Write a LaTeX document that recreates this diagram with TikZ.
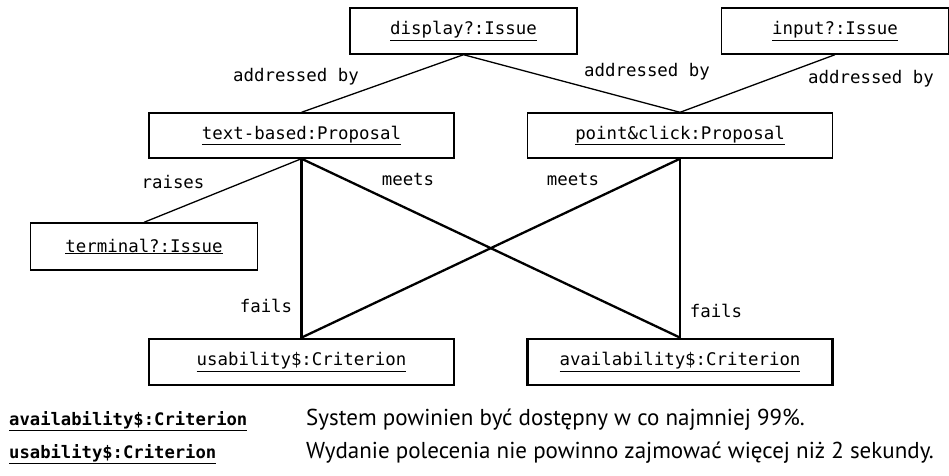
\documentclass[tikz,border=0pt]{standalone}
\usepackage{fontspec}
\setmainfont{PT Sans}
\setmonofont{DejaVu Sans Mono}
\usetikzlibrary{positioning}
\newcommand{\diagfont}{\fontsize{17.4}{20}\selectfont\ttfamily}
\newcommand{\legfont}{\fontsize{17.2}{20}\selectfont\ttfamily\bfseries}
\newcommand{\descfont}{\fontsize{23}{26}\selectfont}
\tikzset{
  issue/.style={draw, line width=1.4pt, minimum width=227pt, minimum height=46pt, inner sep=0pt, font=\diagfont},
  proposal/.style={draw, line width=1.4pt, minimum width=305pt, minimum height=45pt, inner sep=0pt, font=\diagfont},
  criterion/.style={draw, line width=2.8pt, minimum width=305pt, minimum height=46pt, inner sep=0pt, font=\diagfont},
  rel/.style={font=\diagfont, inner sep=0pt},
  thinlink/.style={line width=1.3pt},
  thicklink/.style={line width=2.3pt}
}

\begin{document}
\begin{tikzpicture}[x=1pt, y=-1pt]
    \useasboundingbox[fill=white] (0,0) rectangle (949,475);

    % issues and proposals
    \node[issue] (display) at (463.5,31) {\underline{display?:Issue}};
    \node[issue] (input) at (835,31) {\underline{input?:Issue}};
    \node[proposal] (textbased) at (301.5,135.5) {\underline{text-based:Proposal}};
    \node[proposal] (pointclick) at (680,135.5) {\underline{point\&click:Proposal}};
    \node[issue, minimum height=47pt] (terminal) at (144,246.5) {\underline{terminal?:Issue}};

    % criteria
    \node[criterion] (usability) at (301.5,362) {\underline{usability\$:Criterion}};
    \node[criterion] (availability) at (680,362) {\underline{availability\$:Criterion}};

    % links
    \draw[thinlink] (display.south) -- (textbased.north);
    \draw[thinlink] (display.south) -- (pointclick.north);
    \draw[thinlink] (input.south) -- (pointclick.north);
    \draw[thinlink] (textbased.south) -- (terminal.north);
    \draw[thicklink] (textbased.south) -- (usability.north);
    \draw[thicklink] (textbased.south) -- (availability.north);
    \draw[thicklink] (pointclick.south) -- (usability.north);
    \draw[thicklink] (pointclick.south) -- (availability.north);

    % role labels
    \node[rel] (addrA) at (296,77) {addressed by};
    \node[rel] (addrB) at (647,72) {addressed by};
    \node[rel] (addrC) at (871,79) {addressed by};
    \node[rel] (raises) at (173,182) {raises};
    \node[rel] (meetsA) at (408,180) {meets};
    \node[rel] (meetsB) at (573,180) {meets};
    \node[rel] (failsA) at (266,306) {fails};
    \node[rel] (failsB) at (716,311) {fails};

    % legend
    \node[anchor=base west, inner sep=0pt, font=\legfont] (legAvail) at (9,425) {\underline{availability\$:Criterion}};
    \node[anchor=base west, inner sep=0pt, font=\legfont] (legUsab) at (9,458) {\underline{usability\$:Criterion}};
    \node[anchor=base west, inner sep=0pt, font=\descfont] (descAvail) at (306,425) {System powinien być dostępny w co najmniej 99\%.};
    \node[anchor=base west, inner sep=0pt, font=\descfont] (descUsab) at (306,458) {Wydanie polecenia nie powinno zajmować więcej niż 2 sekundy.};
\end{tikzpicture}
\end{document}
